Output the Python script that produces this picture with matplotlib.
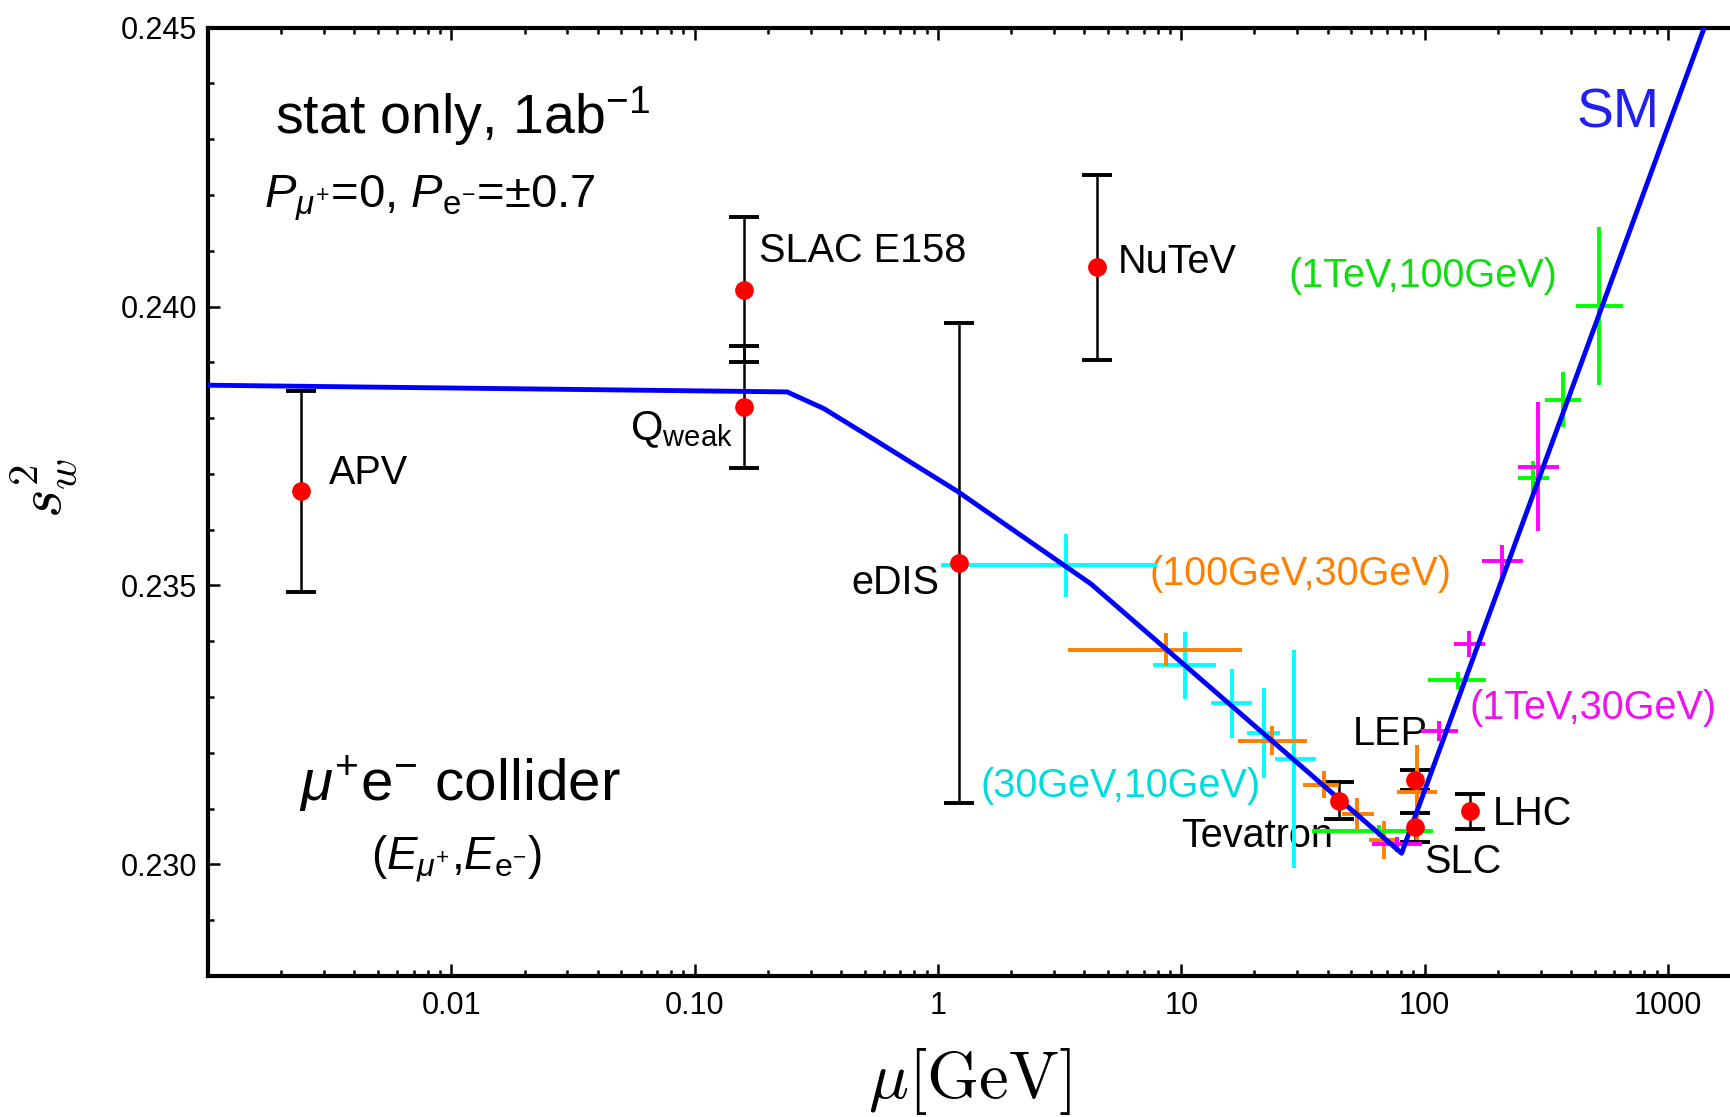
import numpy as np
import matplotlib
matplotlib.use('Agg')
import matplotlib.pyplot as plt
from matplotlib.ticker import FixedLocator, LogLocator, MultipleLocator, NullFormatter, FormatStrFormatter

plt.rcParams['font.family'] = ['Liberation Sans', 'DejaVu Sans']
plt.rcParams['mathtext.fontset'] = 'custom'
plt.rcParams['mathtext.rm'] = 'Liberation Sans'
plt.rcParams['mathtext.it'] = 'Liberation Sans:italic'
plt.rcParams['mathtext.bf'] = 'Liberation Sans:bold'

# SM running of sin^2 theta_W (scale in GeV)
sm_mu = [0.001, 0.24, 0.34, 0.55, 1.21, 4.25, 80.5, 2000]
sm_s2 = [0.23859, 0.23847, 0.23817, 0.23761, 0.23668, 0.23503, 0.23020, 0.2468]

# existing measurements: APV, Qweak, SLAC E158, eDIS, NuTeV, Tevatron, LEP, SLC, LHC
exp_mu = [0.00242, 0.16, 0.16, 1.22, 4.49, 44.6, 91.19, 91.19, 153.8]
exp_s2 = [0.23669, 0.2382, 0.2403, 0.2354, 0.2407, 0.23114, 0.23151, 0.23067, 0.23095]
exp_err = [0.0018, 0.0011, 0.0013, 0.0043, 0.00165, 0.00033, 0.00018, 0.00026, 0.00032]

# mu+ e- collider projections, (E_mu, E_e) = (30 GeV, 10 GeV)
c1_mu = [3.36, 10.33, 16.1, 21.8, 29.2]
c1_lo = [1.03, 7.62, 13.26, 18.7, 24.2]
c1_hi = [7.93, 13.86, 19.6, 25.4, 35.9]
c1_s2 = [0.23536, 0.23357, 0.23289, 0.23236, 0.23189]
c1_err = [0.00057, 0.0006, 0.00062, 0.00081, 0.00196]

# (100 GeV, 30 GeV)
c2_mu = [8.63, 23.7, 38.8, 53.0, 68.4, 93.0]
c2_lo = [3.44, 17.1, 31.8, 45.7, 59.4, 76.9]
c2_hi = [17.8, 32.9, 44.3, 61.7, 78.2, 113.0]
c2_s2 = [0.23385, 0.23222, 0.23143, 0.23091, 0.23044, 0.23129]
c2_err = [0.0003, 0.00026, 0.00024, 0.00028, 0.00034, 0.00085]

# (1 TeV, 100 GeV)
c3_mu = [64.7, 137.0, 280.0, 372.0, 521.0]
c3_lo = [34.4, 103.8, 243.0, 313.0, 418.0]
c3_hi = [108.0, 179.0, 326.0, 440.0, 656.0]
c3_s2 = [0.2306, 0.2333, 0.23692, 0.23833, 0.24001]
c3_err = [0.0001, 0.00015, 0.00032, 0.00049, 0.00141]

# (1 TeV, 30 GeV)
c4_mu = [76.9, 114.7, 153.0, 207.7, 292.0]
c4_lo = [60.8, 96.9, 132.0, 172.0, 243.0]
c4_hi = [98.0, 137.7, 178.0, 253.0, 358.0]
c4_s2 = [0.23036, 0.23239, 0.23395, 0.23543, 0.23713]
c4_err = [0.00013, 0.00018, 0.00024, 0.0003, 0.00115]

fig = plt.figure(figsize=(17.31, 11.17), dpi=100)
ax = fig.add_axes([208 / 1731, 141 / 1117, 1523 / 1731, 948.4 / 1117])

projections = [
    (c1_mu, c1_lo, c1_hi, c1_s2, c1_err, '#00FFFF'),
    (c2_mu, c2_lo, c2_hi, c2_s2, c2_err, '#FF8000'),
    (c3_mu, c3_lo, c3_hi, c3_s2, c3_err, '#00FF00'),
    (c4_mu, c4_lo, c4_hi, c4_s2, c4_err, '#FF00FF'),
]
for mu, lo, hi, s2, err, col in projections:
    mu = np.array(mu)
    xerr = [mu - np.array(lo), np.array(hi) - mu]
    ax.errorbar(mu, s2, xerr=xerr, yerr=err, fmt='none', ecolor=col,
                elinewidth=2.8, capsize=0, zorder=4)

ax.errorbar(exp_mu, exp_s2, yerr=exp_err, fmt='none', ecolor='black',
            elinewidth=1.8, capsize=11, capthick=2.8, zorder=3)

ax.plot(sm_mu, sm_s2, color='#0000FF', lw=3.5, zorder=5)
ax.plot(exp_mu, exp_s2, 'o', color='red', ms=13.5, mec='none', zorder=6)

# labels
lab = 28.5
ax.text(0.00188, 0.2431, r'stat only, 1ab$^{-1}$', fontsize=40, va='baseline')
ax.text(0.0017, 0.24178, r'$P_{\mu^{+}}$=0, $P_{\mathrm{e}^{-}}$=±0.7', fontsize=34, va='baseline')
ax.text(0.00237, 0.23116, r'$\mu^{+}$e$^{-}$ collider', fontsize=42, va='baseline')
ax.text(0.00467, 0.2301, r'($E_{\mu^{+}}$,$E_{\mathrm{e}^{-}}$)', fontsize=33, va='center')

ax.text(0.00314, 0.23702, 'APV', fontsize=lab, va='center')
ax.text(0.184, 0.2410, 'SLAC E158', fontsize=lab, va='center')
ax.text(0.1434, 0.2376, r'Q$_{\mathrm{weak}}$', fontsize=30, ha='right', va='baseline')
ax.text(1.01, 0.23505, 'eDIS', fontsize=lab, ha='right', va='center')
ax.text(5.47, 0.2408, 'NuTeV', fontsize=lab, va='center')
ax.text(50.8, 0.23233, 'LEP', fontsize=lab, va='center')
ax.text(190.0, 0.23091, 'LHC', fontsize=lab, va='center')
ax.text(10.0, 0.23051, 'Tevatron', fontsize=lab, va='center')
ax.text(99.9, 0.23004, 'SLC', fontsize=lab, va='center')

ax.text(422, 0.24346, 'SM', fontsize=40, color='#2020F0', va='center')
ax.text(27.6, 0.24055, '(1TeV,100GeV)', fontsize=lab, color='#10DD10', va='center')
ax.text(7.39, 0.2352, '(100GeV,30GeV)', fontsize=lab, color='#FF8000', va='center')
ax.text(153.0, 0.2328, '(1TeV,30GeV)', fontsize=lab, color='#F010F0', va='center')
ax.text(1.5, 0.2314, '(30GeV,10GeV)', fontsize=lab, color='#00DCDC', va='center')

# axes
ax.set_xscale('log')
ax.set_xlim(1e-3, 1818)
ax.set_ylim(0.228, 0.245)

ax.xaxis.set_major_locator(FixedLocator([0.01, 0.1, 1, 10, 100, 1000]))
ax.set_xticklabels(['0.01', '0.10', '1', '10', '100', '1000'])
ax.xaxis.set_minor_locator(LogLocator(base=10, subs=np.arange(2, 10), numticks=100))
ax.xaxis.set_minor_formatter(NullFormatter())
ax.yaxis.set_major_locator(FixedLocator([0.230, 0.235, 0.240, 0.245]))
ax.yaxis.set_major_formatter(FormatStrFormatter('%.3f'))
ax.yaxis.set_minor_locator(MultipleLocator(0.001))

ax.tick_params(which='both', direction='in', top=True, right=False, width=1.8, labelsize=22)
ax.tick_params(which='major', length=8.6)
ax.tick_params(which='minor', length=4.3)
ax.tick_params(axis='x', pad=11)
ax.tick_params(axis='y', pad=8)

for side in ['left', 'bottom', 'top']:
    ax.spines[side].set_linewidth(3)
ax.spines['right'].set_visible(False)

ax.set_xlabel(r'$\mu[\mathrm{GeV}]$', fontsize=48, math_fontfamily='cm')
ax.set_ylabel(r'$s_w^2$', fontsize=44, math_fontfamily='cm')
ax.xaxis.set_label_coords(0.5, -0.074)
ax.yaxis.set_label_coords(-0.085, 0.515)

fig.savefig('out.png', dpi=100)
